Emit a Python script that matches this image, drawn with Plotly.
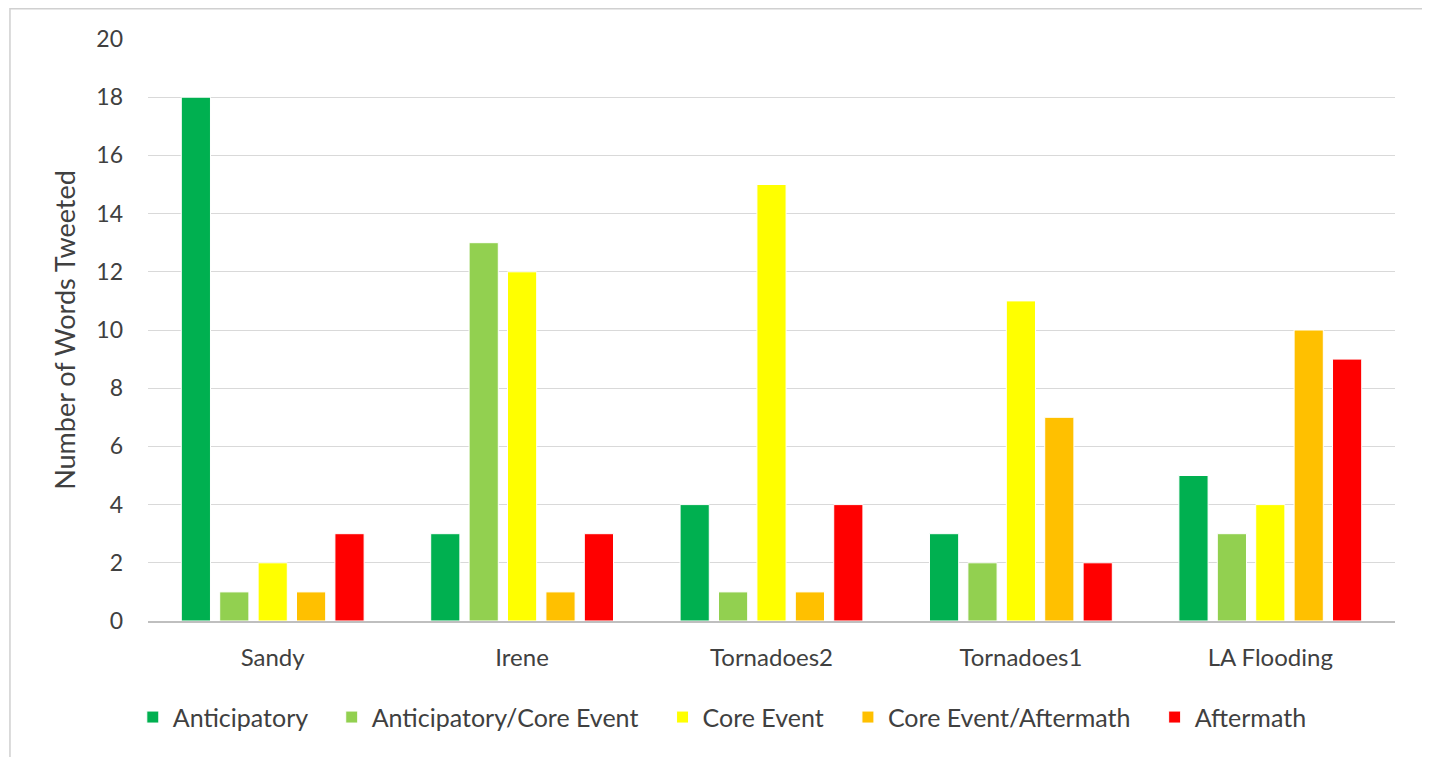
import plotly.graph_objects as go

events = ["Sandy", "Irene", "Tornadoes2", "Tornadoes1", "LA Flooding"]

anticipatory = [18, 3, 4, 3, 5]
anticipatory_core = [1, 13, 1, 2, 3]
core_event = [2, 12, 15, 11, 4]
core_aftermath = [1, 1, 1, 7, 10]
aftermath = [3, 3, 4, 2, 9]

series = [
    ("Anticipatory", anticipatory, "#00B050"),
    ("Anticipatory/Core Event", anticipatory_core, "#92D050"),
    ("Core Event", core_event, "#FFFF00"),
    ("Core Event/Aftermath", core_aftermath, "#FFC000"),
    ("Aftermath", aftermath, "#FF0000"),
]

FONT = "Lato, 'Open Sans', sans-serif"
TEXT_COLOR = "#404040"
PAD = "\u00a0" * 3  # extra space between legend entries

fig = go.Figure()

for name, values, color in series:
    fig.add_trace(go.Bar(
        x=events,
        y=values,
        name=name + PAD,
        marker=dict(color=color, line=dict(color="white", width=1)),
        hovertemplate=name + "<br>%{x}: %{y}<extra></extra>",
    ))

# page body adds 8px margin, so the figure is slightly smaller than the window
fig.update_layout(
    width=1422,
    height=749,
    barmode="group",
    bargap=0.23,
    bargroupgap=0.24,
    paper_bgcolor="white",
    plot_bgcolor="white",
    margin=dict(l=140, r=35, t=31, b=136, autoexpand=False),
    font=dict(family=FONT, color=TEXT_COLOR, size=24),
    xaxis=dict(
        showline=True,
        linecolor="#BFBFBF",
        linewidth=1.5,
        tickfont=dict(size=24),
        ticks="",
        ticklabelstandoff=14,
    ),
    yaxis=dict(
        range=[0, 20],
        dtick=2,
        showgrid=True,
        gridcolor="#D9D9D9",
        gridwidth=1,
        zeroline=False,
        showline=False,
        tickfont=dict(size=23),
        ticklabelstandoff=24,
        title=dict(text="Number of Words Tweeted", font=dict(size=27), standoff=12),
    ),
    legend=dict(
        orientation="h",
        xref="container",
        yref="container",
        x=0.509,
        xanchor="center",
        y=0.053,
        yanchor="middle",
        font=dict(size=25),
        itemwidth=30,
        traceorder="normal",
    ),
    shapes=[dict(
        type="rect",
        xref="paper", yref="paper",
        x0=-0.1107, x1=1.0249, y0=-0.3, y1=1.052,
        line=dict(color="#D0D0D0", width=1.5),
    )],
)

fig.write_html("out.html")
